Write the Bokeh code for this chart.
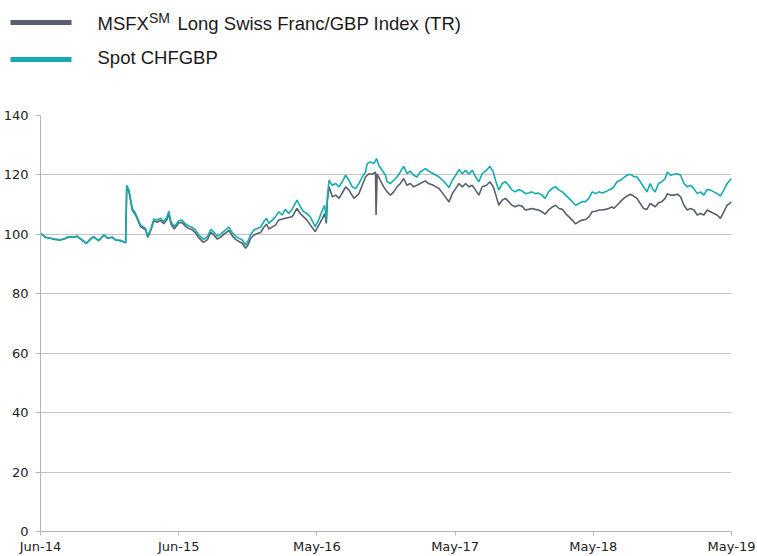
from bokeh.plotting import figure
from bokeh.models import Range1d, FixedTicker, Label
from bokeh.layouts import column
from bokeh.embed import file_html
from bokeh.resources import INLINE

# ---- data (x = trading-day index) ----
tick_days = [0, 250, 500, 750, 1000, 1250]
tick_labels = ["Jun-14", "Jun-15", "May-16", "May-17", "May-18", "May-19"]
y_ticks = [0, 20, 40, 60, 80, 100, 120, 140]

spot_day = [0, 9, 18, 27, 36, 45, 51, 60, 66, 75, 83, 90, 96, 105, 115, 121, 130, 136, 145, 154,
            156, 160, 166, 172, 181, 190, 194, 199, 205, 211, 217, 223, 229, 232, 236, 242, 250,
            256, 262, 268, 274, 280, 286, 295, 302, 308, 313, 320, 326, 332, 341, 347, 353, 359,
            365, 371, 375, 380, 386, 392, 398, 404, 409, 413, 419, 425, 431, 437, 443, 449, 455,
            464, 470, 476, 482, 488, 497, 503, 510, 514, 517, 519, 522, 528, 534, 540, 546, 552,
            558, 564, 570, 576, 582, 588, 591, 597, 603, 608, 612, 618, 624, 627, 633, 639, 645,
            651, 657, 663, 669, 675, 681, 687, 696, 702, 711, 721, 730, 739, 745, 751, 757, 763,
            769, 775, 781, 787, 793, 799, 807, 813, 819, 823, 829, 835, 841, 847, 853, 859, 865,
            871, 877, 883, 889, 895, 901, 907, 913, 919, 925, 932, 938, 944, 950, 956, 962, 968,
            974, 980, 986, 992, 998, 1004, 1010, 1016, 1022, 1028, 1034, 1037, 1043, 1049, 1055,
            1061, 1067, 1073, 1079, 1085, 1091, 1097, 1103, 1108, 1112, 1118, 1124, 1130, 1134,
            1140, 1146, 1152, 1158, 1164, 1170, 1176, 1182, 1188, 1194, 1200, 1206, 1212, 1218,
            1224, 1230, 1236, 1242, 1248, 1250]
spot_val = [100.3, 99.0, 98.7, 98.3, 98.1, 98.6, 99.2, 99.0, 99.4, 98.1, 97.0, 98.3, 99.2, 97.9,
            99.8, 98.7, 99.0, 98.1, 97.9, 97.2,
            116.5, 114.9, 108.7, 107.0, 103.1, 102.0, 99.4, 101.5, 105.2, 104.8, 105.4, 104.3,
            105.9, 107.8, 104.3, 102.6, 104.6, 104.8, 103.5, 102.8, 102.4, 101.5, 99.8, 98.3,
            99.2, 101.7, 100.9, 99.4, 100.1, 101.1, 102.4, 100.6, 99.4, 98.7, 98.1, 96.4, 97.5,
            99.8, 101.5, 102.0, 102.4, 104.3, 105.4, 103.7, 104.8, 105.9, 107.6, 106.5, 108.4,
            107.0, 108.4, 111.5, 109.3, 107.6, 107.0, 105.9, 102.6, 104.8, 108.2, 109.8, 104.8,
            112.6, 118.2, 116.5, 117.1, 116.0, 117.7, 119.9, 118.2, 116.0, 115.4, 117.1, 119.3,
            121.0, 123.8, 124.4, 123.8, 125.5, 123.2, 121.6, 119.9, 117.7, 117.1, 118.2, 119.3,
            121.0, 122.9, 120.4, 121.3, 119.9, 119.3, 121.0, 122.1, 121.3, 120.4, 119.3, 117.7,
            115.8, 118.2, 119.9, 121.8, 120.4, 121.6, 120.2, 121.6, 119.3, 117.7, 120.4, 121.6,
            122.9, 121.0, 118.2, 114.9, 117.1, 117.7, 116.5, 114.9, 114.3, 115.1, 114.6, 113.7,
            113.9, 114.3, 113.7, 113.9, 113.2, 112.1, 114.3, 115.4, 116.0, 114.9, 114.3, 113.2,
            112.1, 111.0, 109.8, 110.4, 111.0, 111.0, 112.1, 114.3, 113.7, 114.3, 113.9, 114.3,
            114.9, 115.4, 116.0, 117.7, 118.2, 119.1, 119.9, 120.2, 119.5, 119.3, 117.7, 116.0,
            114.3, 117.1, 115.1, 114.3, 117.1, 117.7, 118.8, 121.0, 119.9, 120.2, 120.4, 119.9,
            117.1, 116.0, 116.5, 115.4, 113.7, 114.3, 113.2, 115.1, 114.9, 114.3, 113.7, 112.9,
            114.9, 117.1, 118.4, 118.9]

msfx_day = [0, 9, 18, 27, 36, 45, 51, 60, 66, 75, 83, 90, 96, 105, 115, 121, 130, 136, 145, 154,
            156, 160, 166, 172, 181, 190, 194, 199, 205, 211, 217, 223, 229, 232, 236, 242, 250,
            256, 262, 268, 274, 280, 286, 295, 302, 308, 313, 320, 326, 332, 341, 347, 353, 359,
            365, 371, 375, 380, 386, 392, 398, 404, 409, 413, 425, 431, 443, 455, 464, 470, 482,
            488, 497, 510, 514, 517, 519, 522, 528, 534, 540, 546, 552, 558, 567, 576, 582, 588,
            594, 600, 606, 607, 609, 615, 621, 627, 633, 639, 645, 651, 657, 663, 669, 675, 681,
            687, 696, 702, 711, 721, 730, 739, 745, 751, 757, 763, 769, 775, 781, 787, 793, 799,
            807, 813, 819, 823, 829, 835, 841, 847, 853, 859, 865, 871, 877, 883, 889, 895, 901,
            907, 913, 919, 925, 932, 938, 944, 950, 956, 962, 968, 974, 980, 986, 992, 998, 1004,
            1010, 1016, 1022, 1028, 1034, 1037, 1043, 1049, 1055, 1061, 1067, 1073, 1079, 1085,
            1091, 1097, 1103, 1108, 1112, 1118, 1124, 1130, 1134, 1140, 1146, 1152, 1158, 1164,
            1170, 1176, 1182, 1188, 1194, 1200, 1206, 1212, 1218, 1224, 1230, 1236, 1242, 1248,
            1250]
msfx_val = [100.3, 99.0, 98.7, 98.3, 98.1, 98.6, 99.2, 99.0, 99.4, 98.1, 97.0, 98.3, 99.2, 97.9,
            99.8, 98.7, 99.0, 98.1, 97.9, 97.2,
            116.0, 114.4, 108.2, 106.5, 102.6, 101.5, 99.0, 101.0, 104.6, 104.1, 104.7, 103.6,
            105.1, 107.0, 103.5, 101.8, 103.8, 104.0, 102.7, 102.0, 101.6, 100.6, 98.9, 97.3,
            98.2, 100.7, 99.9, 98.4, 99.1, 100.1, 101.3, 99.5, 98.3, 97.6, 97.0, 95.3, 96.3,
            98.6, 99.8, 100.3, 100.6, 102.4, 103.5, 101.8, 103.1, 104.8, 105.4, 105.9, 108.7,
            107.0, 104.8, 103.2, 100.9, 105.4, 107.0, 103.7, 111.5, 116.0, 112.6, 113.2, 112.1,
            114.0, 116.0, 114.9, 112.1, 113.7, 116.5, 119.3, 120.4, 120.2, 121.0, 106.5, 120.4,
            118.0, 116.0, 114.3, 113.2, 114.3, 116.0, 117.1, 118.8, 116.5, 117.1, 116.0, 116.5,
            117.1, 118.0, 117.1, 116.5, 115.4, 113.2, 110.9, 113.7, 115.4, 117.1, 116.0, 117.1,
            116.0, 116.5, 114.9, 113.2, 116.0, 116.5, 117.7, 116.0, 113.7, 109.8, 111.5, 112.1,
            111.0, 109.8, 109.3, 109.8, 109.5, 108.2, 108.4, 108.7, 108.4, 108.2, 107.6, 106.8,
            108.2, 109.1, 109.8, 108.7, 108.4, 107.0, 105.9, 104.8, 103.5, 104.3, 104.8, 105.0,
            105.9, 107.6, 107.8, 108.2, 108.2, 108.4, 108.7, 109.3, 108.7, 109.8, 111.0, 112.1,
            112.9, 113.5, 112.9, 112.1, 110.4, 108.7, 108.4, 110.4, 109.8, 109.3, 110.6, 111.0,
            112.1, 113.7, 113.2, 113.2, 113.5, 112.6, 109.8, 108.2, 108.7, 108.2, 106.5, 107.0,
            106.5, 108.2, 107.6, 107.0, 106.5, 105.4, 107.6, 109.8, 110.6, 110.9]

series_names = ["MSFX", "SM", "Long Swiss Franc/GBP Index (TR)", "Spot CHFGBP"]

# ---- styles / layout ----
GRAY = "#58616B"
TEAL = "#13ABAE"
GRID = "#C4C4C4"
TXT = "#1A1A1A"
LEG_FONT = "Liberation Sans"
AX_FONT = "DejaVu Sans"
W = 755
LEG_H = 100

# ---- legend strip: its own figure, coordinates = pixels from its top-left ----
leg = figure(width=W, height=LEG_H, x_range=Range1d(0, W), y_range=Range1d(LEG_H, 0),
             output_backend="svg", toolbar_location=None, min_border=0,
             x_axis_location=None, y_axis_location=None)
leg.frame_align = False
leg.grid.visible = False
leg.outline_line_color = None
leg.line([10, 71], [22, 22], line_width=5, color=GRAY)
leg.line([10, 71], [59, 59], line_width=5, color=TEAL)
lab_kw = dict(text_font=LEG_FONT, text_color=TXT, text_baseline="alphabetic")
leg.add_layout(Label(x=97, y=23, text=series_names[0], text_font_size="18.5px", **lab_kw))
leg.add_layout(Label(x=148.5, y=17.5, text=series_names[1], text_font_size="14px", **lab_kw))
leg.add_layout(Label(x=177, y=23, text=series_names[2], text_font_size="18.5px", **lab_kw))
leg.add_layout(Label(x=97, y=57, text=series_names[3], text_font_size="18.5px", **lab_kw))

# ---- main chart ----
p = figure(width=W, height=556 - LEG_H, x_range=Range1d(0, 1250), y_range=Range1d(0, 140),
           output_backend="svg", toolbar_location=None,
           min_border_left=40, min_border_right=24, min_border_top=15, min_border_bottom=23)
p.frame_align = False
p.outline_line_color = None
p.xgrid.visible = False
p.ygrid.grid_line_color = GRID
p.ygrid.grid_line_width = 1

p.line(msfx_day, msfx_val, color=GRAY, line_width=1.6)
p.line(spot_day, spot_val, color=TEAL, line_width=1.6)

p.xaxis.ticker = FixedTicker(ticks=tick_days)
p.xaxis.major_label_overrides = {d: l for d, l in zip(tick_days, tick_labels)}
p.yaxis.ticker = FixedTicker(ticks=y_ticks)
for ax in (p.xaxis[0], p.yaxis[0]):
    ax.axis_line_color = "#B5B5B5"
    ax.major_tick_line_color = "#B5B5B5"
    ax.major_tick_in = 0
    ax.major_tick_out = 4
    ax.minor_tick_line_color = None
    ax.major_label_text_font = AX_FONT
    ax.major_label_text_font_size = "13px"
    ax.major_label_text_color = "#222222"
    ax.major_label_standoff = 3
p.yaxis[0].major_tick_out = 5
p.yaxis[0].major_label_standoff = 7

layout = column(leg, p, spacing=0)
open("out.html", "w").write(file_html(layout, INLINE))
